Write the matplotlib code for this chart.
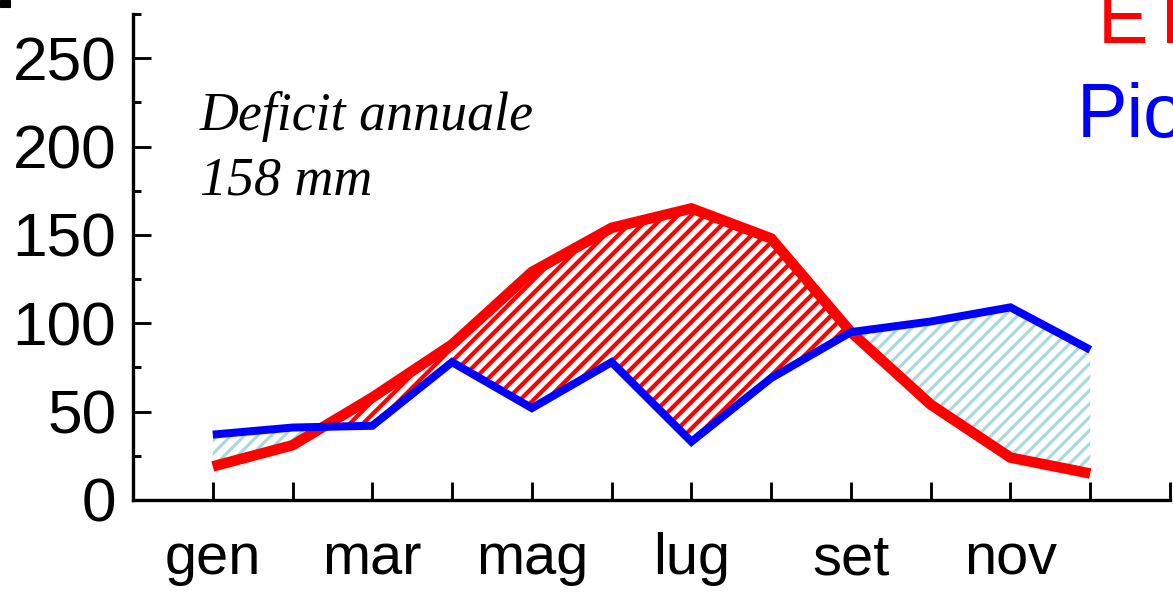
import matplotlib
matplotlib.use("Agg")
import matplotlib.pyplot as plt
from matplotlib.patches import Rectangle
import numpy as np

# Monthly water balance (mm)
months = ['gen', 'feb', 'mar', 'apr', 'mag', 'giu',
          'lug', 'ago', 'set', 'ott', 'nov', 'dic']
etp = [19, 31, 58, 88, 129, 154, 165, 148, 95, 54, 24, 15]
piogge = [37, 41, 42, 78, 52, 78, 33, 69, 95, 101, 109, 85]
y_ticks = [0, 50, 100, 150, 200, 250]

DPI = 80
W, H = 1173, 592

plt.rcParams['font.family'] = ['Liberation Sans', 'DejaVu Sans']
plt.rcParams['hatch.linewidth'] = 3.5

fig = plt.figure(figsize=(W / DPI, H / DPI), dpi=DPI)
ax = fig.add_axes([133 / W, 1 - 500 / H, (1170 - 133) / W, (500 - 14) / H])

x = np.arange(1, len(months) + 1)
et = np.array(etp, dtype=float)
pr = np.array(piogge, dtype=float)

# Deficit (ET above rainfall) and surplus (rainfall above ET), hatched
deficit = ax.fill_between(x, pr, et, where=et >= pr, interpolate=True,
                          facecolor='none', edgecolor='#ff0000',
                          hatch='//', linewidth=0, zorder=1)
surplus = ax.fill_between(x, et, pr, where=pr >= et, interpolate=True,
                          facecolor='none', edgecolor='#a9d9dc',
                          hatch='//', linewidth=0, zorder=1)
if hasattr(deficit, 'set_hatch_linewidth'):
    deficit.set_hatch_linewidth(3.8)
    surplus.set_hatch_linewidth(2.8)

ax.plot(x, et, color='#ff0000', lw=9.5, solid_joinstyle='miter',
        solid_capstyle='butt', zorder=3)
ax.plot(x, pr, color='#0000ff', lw=7.2, solid_joinstyle='miter',
        solid_capstyle='butt', zorder=4)

ax.set_xlim(0, 13)
ax.set_ylim(0, 275)

for side in ('top', 'right'):
    ax.spines[side].set_visible(False)
for side in ('left', 'bottom'):
    ax.spines[side].set_linewidth(3.0)
    ax.spines[side].set_color('black')

ax.set_xticks(np.arange(1, 14))
ax.set_xticklabels([m if i % 2 == 0 else '' for i, m in enumerate(months)] + [''])
ax.set_yticks(y_ticks)
ax.set_yticklabels([str(v) for v in y_ticks])
ax.set_yticks(np.arange(25, 300, 50), minor=True)

ax.tick_params(axis='both', which='major', direction='in', length=16,
               width=2.6, color='black')
ax.tick_params(axis='y', which='major', labelsize=56, pad=15)
ax.tick_params(axis='x', which='major', labelsize=52, pad=29)
ax.tick_params(axis='y', which='minor', direction='in', length=7.5,
               width=2.6, color='black')
ax.patch.set_alpha(0)

# Annotation
serif = ['Liberation Serif', 'DejaVu Serif']
ax.text(0.0646, 0.761, 'Deficit annuale', transform=ax.transAxes,
        family=serif, style='italic', fontsize=48.5, va='baseline', ha='left')
ax.text(0.0646, 0.628, '158 mm', transform=ax.transAxes,
        family=serif, style='italic', fontsize=48.5, va='baseline', ha='left')

# Series names at the right edge
fig.text(1098 / W, 1 - 43 / H, 'ETP', color='#ff0000', fontsize=68,
         va='baseline', ha='left')
fig.text(1077 / W, 1 - 137 / H, 'Piogge', color='#0000ff', fontsize=68,
         va='baseline', ha='left')

# Small dark mark in the top-left corner
fig.patches.append(Rectangle((0, 1 - 7 / H), 10 / W, 7 / H,
                             transform=fig.transFigure, color='black'))

fig.savefig('out.png', dpi=DPI)
